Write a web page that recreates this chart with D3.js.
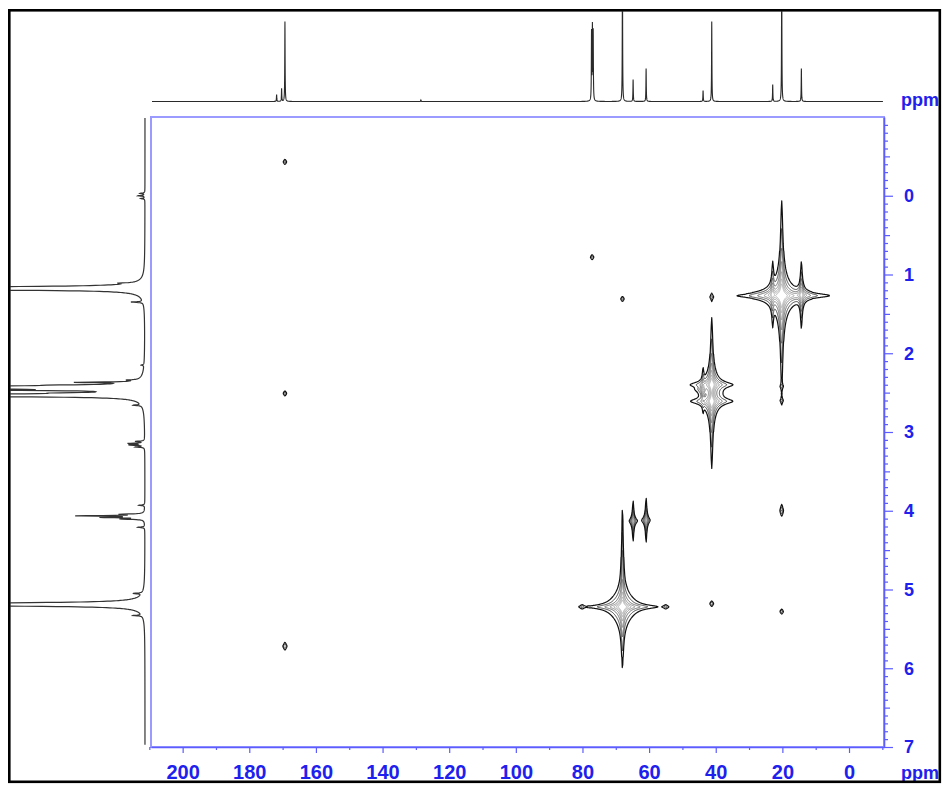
<!DOCTYPE html>
<html>
<head>
<meta charset="utf-8">
<script src="https://cdn.jsdelivr.net/npm/d3@7"></script>
<style>
  html, body { margin: 0; padding: 0; background: #fff; }
  svg { display: block; }
  .lbl { font-family: "Liberation Sans", Arial, Helvetica, sans-serif; font-weight: bold; fill: #2020ee; }
</style>
</head>
<body>
<svg id="chart" width="943" height="786"></svg>
<script>
// ---------- 13C projection (top trace) ----------
const carbonShifts  = [171.8, 170.3, 169.3, 128.5, 77.28, 77.02, 76.78, 68.0, 64.8, 60.9, 43.8, 41.2, 22.9, 20.2, 14.3];
const carbonHeights = [7, 13, 80, 1.5, 68, 72, 68, 140, 22, 33, 11, 80, 17, 140, 33];
const carbonWidth = 0.06; // Lorentzian half-width, ppm

// ---------- 1H projection (left trace) ----------
const protonShifts  = [-0.03, 0.00, 0.035, 1.11, 1.175, 1.195, 1.35, 2.15, 2.34, 2.37, 2.405, 2.435, 2.47, 2.505, 2.535, 2.66,
                       3.12, 3.145, 3.165, 3.19, 3.93, 4.045, 4.065, 4.085, 4.105, 4.21, 5.05, 5.19, 5.33];
const protonHeights = [5, 7, 4, 12, 2600, 82, 12, 3, 10, 56, 36, 2200, 95, 34, 1800, 8,
                       9, 16, 15, 9, 6, 22, 66, 40, 22, 7, 9, 2600, 9];
const protonWidth = 0.005; // ppm

// ---------- HSQC cross peaks (13C ppm, 1H ppm, amplitude, half-widths in ppm) ----------
const crossC   = [20.2, 20.2, 22.9, 14.3,
                  41.2, 41.2, 41.2, 43.8,
                  68.0, 68.0, 68.0, 80.1, 55.0,
                  64.8, 60.9,
                  169.3, 77.1, 68.0, 169.3, 169.3, 20.2, 20.2, 20.2, 41.2, 20.2, 41.2];
const crossH   = [1.27, 1.27, 1.25, 1.26,
                  2.40, 2.61, 2.50, 2.46,
                  5.22, 5.22, 4.72, 5.22, 5.22,
                  4.13, 4.12,
                  -0.43, 0.78, 1.31, 2.51, 5.72, 2.42, 2.60, 4.00, 5.18, 5.28, 1.29];
const crossAmp = [2000, 6, 220, 240,
                  460, 460, 3, 70,
                  1000, 6, 6, 2.2, 2.2,
                  60, 65,
                  3, 3, 3, 3, 4, 2.2, 2.2, 4, 3.5, 3, 2];
const crossWC  = [0.30, 1.5, 0.22, 0.22,
                  0.28, 0.28, 1.5, 0.20,
                  0.31, 1.8, 0.12, 0.5, 0.5,
                  0.15, 0.15,
                  0.35, 0.35, 0.35, 0.35, 0.35, 0.35, 0.35, 0.30, 0.35, 0.35, 0.35];
const crossWH  = [0.027, 0.10, 0.026, 0.027,
                  0.031, 0.031, 0.12, 0.030,
                  0.0215, 0.11, 0.30, 0.02, 0.02,
                  0.034, 0.036,
                  0.022, 0.022, 0.022, 0.022, 0.028, 0.02, 0.02, 0.04, 0.022, 0.022, 0.022];
const contourLevels = [1, 2, 4, 8, 16, 32, 64];

// ---------- axis ticks ----------
const carbonTicks = [200, 180, 160, 140, 120, 100, 80, 60, 40, 20, 0];
const carbonMinorTicks = [210, 190, 170, 150, 130, 110, 90, 70, 50, 30, 10, -10];
const protonTicks = [0, 1, 2, 3, 4, 5, 6, 7];

// ---------- layout ----------
const plot = { left: 151, top: 117, right: 884, bottom: 747 };
const svg = d3.select("#chart");

const xScale = d3.scaleLinear().domain([209.5, -10.5]).range([plot.left, plot.right]);
const yScale = d3.scaleLinear().domain([-1, 7]).range([plot.top, plot.bottom]);
const carbonInt = d3.scaleLinear().domain([0, 90]).range([101.5, 11.5]);
const protonInt = d3.scaleLinear().domain([0, 135]).range([145, 10]);

const defs = svg.append("defs");
defs.append("clipPath").attr("id", "clipTop").append("rect")
  .attr("x", 10).attr("y", 11.3).attr("width", 929).attr("height", 100);
defs.append("clipPath").attr("id", "clipLeft").append("rect")
  .attr("x", 10.3).attr("y", 100).attr("width", 140).attr("height", 680);
defs.append("clipPath").attr("id", "clipPlot").append("rect")
  .attr("x", plot.left).attr("y", plot.top)
  .attr("width", plot.right - plot.left).attr("height", plot.bottom - plot.top);

const lorentz = (x, c, h, w) => { const u = (x - c) / w; return h / (1 + u * u); };

// ---------- top 13C trace ----------
{
  const start = xScale.invert(152), end = xScale.invert(883);
  const pts = [];
  for (let p = start; p >= end; p -= 0.02) {
    let v = 0;
    for (let k = 0; k < carbonShifts.length; k++) v += lorentz(p, carbonShifts[k], carbonHeights[k], carbonWidth);
    pts.push([p, v]);
  }
  svg.append("path")
    .attr("clip-path", "url(#clipTop)")
    .attr("d", d3.line().x(d => xScale(d[0])).y(d => carbonInt(d[1]))(pts))
    .attr("fill", "none").attr("stroke", "#2a2a2a").attr("stroke-width", 1.1);
}

// ---------- left 1H trace ----------
{
  const start = yScale.invert(118), end = yScale.invert(745);
  const pts = [];
  for (let p = start; p <= end; p += 0.002) {
    let v = 0;
    for (let k = 0; k < protonShifts.length; k++) v += lorentz(p, protonShifts[k], protonHeights[k], protonWidth);
    pts.push([p, v]);
  }
  svg.append("path")
    .attr("clip-path", "url(#clipLeft)")
    .attr("d", d3.line().x(d => protonInt(d[1])).y(d => yScale(d[0]))(pts))
    .attr("fill", "none").attr("stroke", "#333").attr("stroke-width", 1.2);
}

// ---------- plot frame ----------
svg.append("rect")
  .attr("x", plot.left).attr("y", plot.top)
  .attr("width", plot.right - plot.left).attr("height", plot.bottom - plot.top)
  .attr("fill", "none").attr("stroke", "#9a9aff").attr("stroke-width", 2);

// ---------- 2D contour map ----------
{
  const step = 0.5;
  const nx = Math.round((plot.right - plot.left) / step);
  const ny = Math.round((plot.bottom - plot.top) / step);
  const grid = new Float64Array(nx * ny);
  const cAt = new Float64Array(nx), hAt = new Float64Array(ny);
  for (let i = 0; i < nx; i++) cAt[i] = xScale.invert(plot.left + (i + 0.5) * step);
  for (let j = 0; j < ny; j++) hAt[j] = yScale.invert(plot.top + (j + 0.5) * step);
  const pxPerC = Math.abs(xScale(1) - xScale(0));
  const pxPerH = Math.abs(yScale(1) - yScale(0));

  for (let k = 0; k < crossC.length; k++) {
    const c = crossC[k], h = crossH[k], a = crossAmp[k], wc = crossWC[k], wh = crossWH[k];
    const reach = Math.sqrt(a / 0.2);
    const cx = xScale(c), cy = yScale(h);
    const rx = wc * pxPerC * reach + 2, ry = wh * pxPerH * reach + 2;
    const i0 = Math.max(0, Math.floor((cx - rx - plot.left) / step));
    const i1 = Math.min(nx - 1, Math.ceil((cx + rx - plot.left) / step));
    const j0 = Math.max(0, Math.floor((cy - ry - plot.top) / step));
    const j1 = Math.min(ny - 1, Math.ceil((cy + ry - plot.top) / step));
    for (let j = j0; j <= j1; j++) {
      const v = (hAt[j] - h) / wh;
      const fy = a / (1 + v * v);
      const row = j * nx;
      for (let i = i0; i <= i1; i++) {
        const u = (cAt[i] - c) / wc;
        grid[row + i] += fy / (1 + u * u);
      }
    }
  }

  const contours = d3.contours().size([nx, ny]).thresholds(contourLevels)(grid);
  const path = d3.geoPath();
  const levelColor = d3.scaleOrdinal().domain(contourLevels)
    .range(["#111111", "#2e2e2e", "#5a5a5a", "#808080", "#9a9a9a", "#a8a8a8", "#b0b0b0"]);
  svg.append("g")
    .attr("clip-path", "url(#clipPlot)")
    .append("g")
    .attr("transform", `translate(${plot.left},${plot.top}) scale(${step})`)
    .selectAll("path")
    .data(contours.slice().reverse())
    .join("path")
    .attr("d", path)
    .attr("fill", "none")
    .attr("stroke", d => levelColor(d.value))
    .attr("stroke-width", d => d.value === 1 ? 1.2 : 0.9)
    .attr("vector-effect", "non-scaling-stroke")
    .attr("stroke-linejoin", "round");
}

// ---------- axes ----------
const axisColor = "#5c5cff";
const styleAxis = g => {
  g.select(".domain").attr("stroke", axisColor).attr("stroke-width", 1.6);
  g.selectAll(".tick line").attr("stroke", axisColor).attr("stroke-width", 1.2);
};

// bottom (13C)
svg.append("g")
  .attr("transform", `translate(0,${plot.bottom})`)
  .call(d3.axisBottom(xScale).tickValues(carbonMinorTicks).tickSize(3).tickSizeOuter(0).tickFormat(""))
  .call(g => g.select(".domain").remove())
  .call(styleAxis);
svg.append("g")
  .attr("transform", `translate(0,${plot.bottom})`)
  .call(d3.axisBottom(xScale).tickValues(carbonTicks).tickSize(6).tickSizeOuter(0).tickPadding(12).tickFormat(d3.format("d")))
  .call(styleAxis)
  .call(g => g.selectAll(".tick text").attr("class", "lbl").attr("font-size", 20).attr("fill", null));

// right (1H)
const protonMinor = d3.range(-10, 71).map(d => d / 10).filter(d => Math.abs(d - Math.round(d)) > 1e-6);
svg.append("g")
  .attr("transform", `translate(${plot.right},0)`)
  .call(d3.axisRight(yScale).tickValues(protonMinor.filter(d => Math.abs(d * 2 - Math.round(d * 2)) > 1e-6)).tickSize(4).tickSizeOuter(0).tickFormat(""))
  .call(g => g.select(".domain").remove())
  .call(styleAxis);
svg.append("g")
  .attr("transform", `translate(${plot.right},0)`)
  .call(d3.axisRight(yScale).tickValues(protonMinor.filter(d => Math.abs(d * 2 - Math.round(d * 2)) < 1e-6)).tickSize(6).tickSizeOuter(0).tickFormat(""))
  .call(g => g.select(".domain").remove())
  .call(styleAxis);
svg.append("g")
  .attr("transform", `translate(${plot.right},0)`)
  .call(d3.axisRight(yScale).tickValues(protonTicks).tickSize(9).tickSizeOuter(0).tickFormat(d3.format("d")))
  .call(styleAxis)
  .call(g => g.selectAll(".tick text")
    .attr("class", "lbl").attr("font-size", 18).attr("fill", null)
    .attr("text-anchor", "middle").attr("x", 25));

// unit labels
svg.append("text").attr("class", "lbl").attr("font-size", 18)
  .attr("x", 901).attr("y", 106).text("ppm");
svg.append("text").attr("class", "lbl").attr("font-size", 18)
  .attr("x", 901).attr("y", 779).text("ppm");

// ---------- outer border ----------
svg.append("rect")
  .attr("x", 9.3).attr("y", 10.3).attr("width", 930.5).attr("height", 771.5)
  .attr("fill", "none").attr("stroke", "#000").attr("stroke-width", 2.6);
</script>
</body>
</html>
